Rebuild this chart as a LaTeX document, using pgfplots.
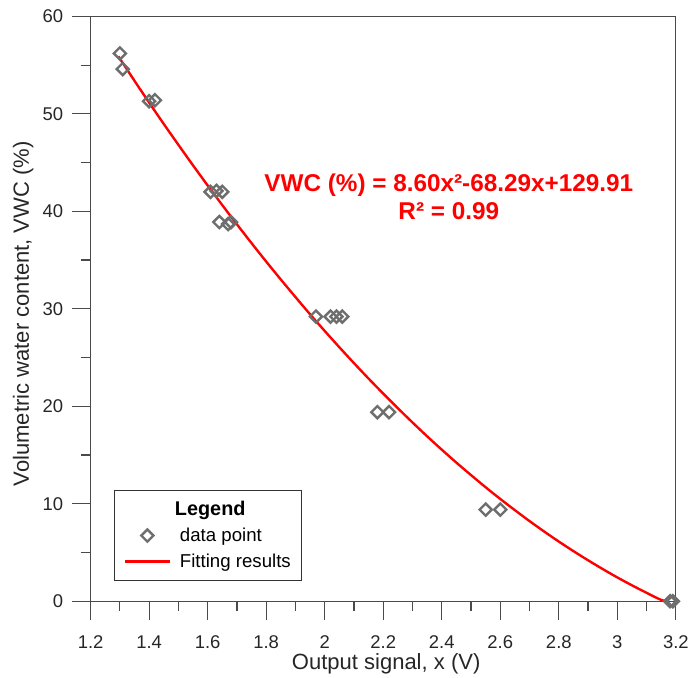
\documentclass[border=0pt]{standalone}
\usepackage{pgfplots}
\pgfplotsset{compat=1.18}
\usepackage{fontspec}
\setmainfont{Liberation Sans}
\definecolor{markgray}{HTML}{6E6E6E}
\definecolor{axgray}{HTML}{4A4A4A}
\begin{document}
\begin{tikzpicture}
\begin{axis}[
  scale only axis, width=588bp, height=587.5bp,
  xmin=1.2, xmax=3.2, ymin=0, ymax=60,
  xtick={1.2,1.4,1.6,1.8,2.0,2.2,2.4,2.6,2.8,3.0,3.2},
  xticklabels={1.2,1.4,1.6,1.8,2,2.2,2.4,2.6,2.8,3,3.2},
  ytick={0,10,20,30,40,50,60},
  minor x tick num=1, minor y tick num=1,
  tick align=outside, xtick pos=bottom, ytick pos=left,
  tickwidth=19bp, subtickwidth=10bp,
  axis line style={axgray, line width=1.2bp},
  tick style={axgray, line width=1.2bp},
  /pgf/number format/assume math mode=true,
  tick label style={font=\fontsize{18.6}{20}\selectfont, text=black!85},
  xticklabel style={yshift=-12bp},
  yticklabel style={xshift=-5bp},
  label style={font=\fontsize{22.2}{26}\selectfont, text=black!85},
  xlabel={Output signal, x (V)},
  ylabel={Volumetric water content, VWC (\%)},
  xlabel style={at={(axis description cs:0.505,-0.117)}, anchor=base},
  ylabel style={at={(axis description cs:-0.1054,0.4915)}, anchor=base},
  legend image code/.code={\draw[mark repeat=2,mark phase=2,#1] plot coordinates {(0bp,0bp) (22.5bp,0bp) (45bp,0bp)};},
  legend cell align=left,
  legend style={at={(axis description cs:0.0408,0.0357)}, anchor=south west,
    draw=black!80, line width=0.8bp, font=\fontsize{18.8}{22}\selectfont,
    inner xsep=9bp, inner ysep=9bp, row sep=7bp,
    /tikz/every odd column/.append style={column sep=7bp},
    /tikz/every even column/.append style={column sep=0bp}},
]
\addplot[red, line width=2.4bp, smooth, forget plot] coordinates {
(1.295,55.90) (1.35,53.40) (1.40,51.16) (1.45,48.97) (1.50,46.83) (1.55,44.72) (1.60,42.66)
(1.65,40.64) (1.70,38.67) (1.75,36.74) (1.80,34.85) (1.85,33.01) (1.90,31.21)
(1.95,29.44) (2.00,27.73) (2.05,26.06) (2.10,24.43) (2.15,22.84) (2.20,21.30)
(2.25,19.80) (2.30,18.34) (2.35,16.92) (2.40,15.55) (2.45,14.22) (2.50,12.94)
(2.55,11.69) (2.60,10.49) (2.65,9.34) (2.70,8.22) (2.75,7.15) (2.80,6.12)
(2.85,5.14) (2.90,4.20) (2.95,3.30) (3.00,2.44) (3.05,1.63) (3.10,0.86)
(3.15,0.13) (3.175,0.0)
};
\addlegendimage{empty legend}
\addlegendentry{\hspace*{-5bp}\fontsize{20}{22}\selectfont\bfseries Legend}
\addplot[only marks, mark=square, mark size=4.3bp, mark options={rotate=45, draw=markgray, line width=2.4bp, fill=none}] coordinates {
(1.30,56.2) (1.31,54.6) (1.40,51.3) (1.42,51.4)
(1.61,42.0) (1.63,42.1) (1.65,42.0)
(1.64,38.9) (1.67,38.7) (1.68,38.9)
(1.97,29.2) (2.02,29.2) (2.04,29.2) (2.06,29.2)
(2.18,19.4) (2.22,19.4)
(2.55,9.4) (2.60,9.4)
(3.18,0) (3.19,0)
};
\addlegendentry{data point}
\addlegendimage{red, line width=2.4bp}
\addlegendentry{Fitting results}
\node[align=center, text=red, font=\fontsize{24.5}{28.5}\selectfont\bfseries] at (axis cs:2.424,41.5) {VWC (\%) = 8.60x²-68.29x+129.91\\R² = 0.99};
\end{axis}
\path[use as bounding box] (-91bp,-76bp) rectangle (601bp,604bp);
\end{tikzpicture}
\end{document}
